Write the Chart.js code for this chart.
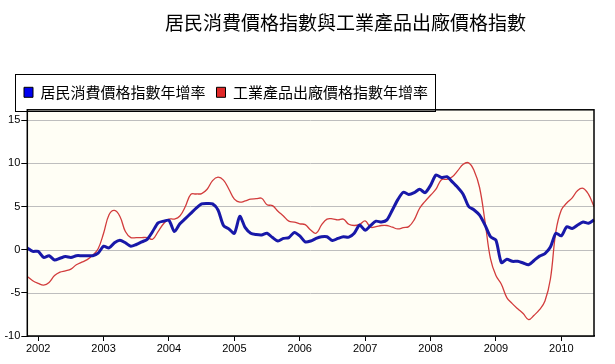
<!DOCTYPE html>
<html>
<head>
<meta charset="utf-8">
<script src="https://cdn.jsdelivr.net/npm/chart.js@4/dist/chart.umd.min.js"></script>
<style>
html,body{margin:0;padding:0;background:#fff;}
canvas{display:block;}
</style>
</head>
<body>
<canvas id="c" width="615" height="364"></canvas>
<script>
const chartTitle = '居民消費價格指數與工業產品出廠價格指數';
const seriesNames = ['居民消費價格指數年增率', '工業產品出廠價格指數年增率'];
const startYear = 2001, startMonth = 11;

// CPI year-on-year (%), monthly from Nov 2001 to Jul 2010
const cpi = [
  0.2, -0.2,
  -0.2, -0.9, -0.7, -1.2, -1.0, -0.8, -0.9, -0.7, -0.7, -0.7, -0.7, -0.4,
  0.4, 0.2, 0.8, 1.1, 0.8, 0.4, 0.6, 0.9, 1.2, 2.1, 3.1, 3.3,
  3.4, 2.1, 3.0, 3.6, 4.2, 4.8, 5.3, 5.35, 5.3, 4.6, 2.8, 2.4,
  1.9, 3.85, 2.55, 1.9, 1.75, 1.7, 1.9, 1.4, 1.0, 1.3, 1.4, 2.0,
  1.6, 0.9, 1.0, 1.3, 1.5, 1.5, 1.06, 1.3, 1.5, 1.45, 1.9, 2.85,
  2.25, 2.8, 3.3, 3.2, 3.45, 4.6, 5.8, 6.65, 6.4, 6.6, 7.0, 6.6,
  7.45, 8.65, 8.35, 8.45, 7.85, 7.2, 6.4, 5.0, 4.6, 4.0, 2.85, 1.5,
  1.1, -1.5, -1.1, -1.35, -1.35, -1.55, -1.75, -1.25, -0.75, -0.45, 0.3, 1.9,
  1.6, 2.65, 2.45, 2.85, 3.2, 3.05, 3.45
];
// PPI year-on-year (%)
const ppi = [
  -3.1, -3.6,
  -3.9, -4.1, -3.8, -3.0, -2.6, -2.45, -2.25, -1.75, -1.45, -1.15, -0.65, 0.1,
  1.9, 4.05, 4.55, 3.85, 2.1, 1.4, 1.4, 1.4, 1.4, 1.2, 2.1, 3.0,
  3.55, 3.55, 3.9, 5.0, 6.4, 6.45, 6.5, 7.0, 8.0, 8.4, 8.05, 7.0,
  5.85, 5.5, 5.65, 5.85, 5.9, 5.95, 5.2, 5.1, 4.45, 3.9, 3.3, 3.2,
  3.0, 2.9, 2.27, 1.9, 2.86, 3.53, 3.57, 3.45, 3.53, 2.94, 2.8, 2.94,
  3.33, 2.6, 2.67, 2.8, 2.8, 2.6, 2.4, 2.55, 2.67, 3.45, 4.8, 5.6,
  6.3, 7.0, 8.1, 8.15, 8.45, 9.15, 9.9, 10.05, 9.15, 7.2, 3.25, -1.05,
  -3.0, -4.0, -5.55, -6.25, -6.85, -7.4, -8.1, -7.6, -6.95, -5.95, -3.4, 2.1,
  4.6, 5.4, 6.0, 6.85, 7.1, 6.4, 5.0
];
const yTicks = [-10, -5, 0, 5, 10, 15];

const months = [];
for (let i = 0; i < cpi.length; i++) {
  const k = startMonth - 1 + i;
  months.push((startYear + Math.floor(k / 12)) + '-' + String(k % 12 + 1).padStart(2, '0'));
}

const legendFont = { family: '"Noto Sans CJK TC", "Noto Sans CJK SC", sans-serif', size: 15 };
const LEG = { left: 13, pad: 11, boxW: 9 };

const framePlugin = {
  id: 'frame',
  afterLayout(chart) {
    const t = chart.titleBlock;
    if (t) { t.left = 76; t.right = 615; }
    const lg = chart.legend;
    if (lg) { lg.left = LEG.left; }
  },
  beforeDatasetsDraw(chart) {
    const {ctx, chartArea: a} = chart;
    ctx.save();
    ctx.fillStyle = '#FFFEF5';
    ctx.fillRect(a.left, a.top, a.right - a.left, a.bottom - a.top);
    const ys = chart.scales.y;
    ctx.strokeStyle = '#BEBEBE';
    ctx.lineWidth = 1;
    yTicks.forEach(v => {
      if (v <= ys.min) return;
      const py = Math.round(ys.getPixelForValue(v)) + 0.5;
      ctx.beginPath(); ctx.moveTo(a.left, py); ctx.lineTo(a.right, py); ctx.stroke();
    });
    ctx.restore();
  },
  afterDraw(chart) {
    const {ctx, chartArea: a} = chart;
    ctx.save();
    ctx.strokeStyle = '#000';
    ctx.lineWidth = 1.5;
    ctx.strokeRect(a.left, a.top, a.right - a.left, a.bottom - a.top);
    const lg = chart.legend;
    if (lg) {
      ctx.font = legendFont.size + 'px ' + legendFont.family;
      let x = lg.left + LEG.pad;
      const l = x - 9;
      lg.legendItems.forEach((it, i) => {
        if (i > 0) x += LEG.pad;
        x += LEG.boxW + legendFont.size / 2 + ctx.measureText(it.text).width;
      });
      const r = x + 7;
      const tp = lg.top, bt = lg.top + LEG.pad * 2 + legendFont.size;
      ctx.lineWidth = 1;
      ctx.strokeRect(Math.round(l) + 0.5, Math.round(tp) + 0.5, Math.round(r - l), Math.round(bt - tp));
    }
    ctx.restore();
  }
};

new Chart(document.getElementById('c'), {
  type: 'line',
  data: {
    labels: months,
    datasets: [
      {
        label: seriesNames[0],
        data: cpi,
        borderColor: '#1818A8',
        backgroundColor: '#0000F0',
        borderWidth: 3,
        pointRadius: 0,
        tension: 0.25,
        fill: false
      },
      {
        label: seriesNames[1],
        data: ppi,
        borderColor: '#D23C3C',
        backgroundColor: '#E02828',
        borderWidth: 1.3,
        pointRadius: 0,
        tension: 0.4,
        fill: false
      }
    ]
  },
  options: {
    responsive: false,
    animation: false,
    devicePixelRatio: 1,
    layout: { padding: { left: 0, right: 21, top: 0, bottom: 0 } },
    plugins: {
      title: {
        display: true,
        text: chartTitle,
        color: '#000',
        font: { family: '"Noto Sans CJK TC", "Noto Sans CJK SC", sans-serif', size: 19, weight: 'normal' },
        padding: { top: 11, bottom: 40 }
      },
      legend: {
        display: true,
        position: 'top',
        align: 'start',
        maxHeight: 40,
        labels: {
          color: '#000',
          boxWidth: LEG.boxW,
          boxHeight: 10,
          padding: LEG.pad,
          font: legendFont,
          generateLabels(chart) {
            const items = Chart.defaults.plugins.legend.labels.generateLabels(chart);
            items.forEach(it => { it.strokeStyle = '#000'; it.lineWidth = 1; });
            return items;
          }
        }
      },
      tooltip: { enabled: false }
    },
    scales: {
      x: {
        type: 'category',
        offset: false,
        afterBuildTicks(scale) {
          scale.ticks = scale.ticks.filter(t => months[t.value].endsWith('-01'));
        },
        afterFit(scale) { scale.height = 28; },
        grid: { drawOnChartArea: false, drawTicks: true, tickLength: 5, tickColor: '#000' },
        border: { display: true, color: '#000', width: 1.5 },
        ticks: {
          autoSkip: false,
          maxRotation: 0,
          padding: 1,
          color: '#000',
          font: { family: '"Liberation Sans", Arial, sans-serif', size: 11 },
          callback(value) { return months[value].slice(0, 4); }
        }
      },
      y: {
        min: -10,
        max: 16.2,
        afterBuildTicks(scale) {
          scale.ticks = yTicks.map(v => ({ value: v }));
        },
        afterFit(scale) { scale.width = 27.3; },
        grid: { drawOnChartArea: false, drawTicks: true, tickLength: 6, tickColor: '#000' },
        border: { display: true, color: '#000', width: 1.5 },
        ticks: {
          includeBounds: false,
          padding: 1,
          color: '#000',
          font: { family: '"Liberation Sans", Arial, sans-serif', size: 11 }
        }
      }
    }
  },
  plugins: [framePlugin]
});
</script>
</body>
</html>
